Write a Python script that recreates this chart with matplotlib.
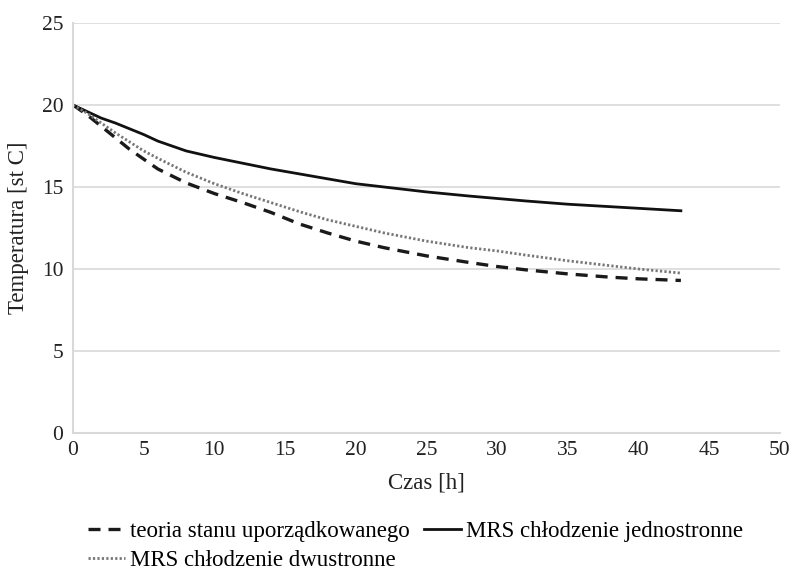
import matplotlib
matplotlib.use("Agg")
import matplotlib.pyplot as plt

hours = [0, 1, 2, 3, 4, 5, 6, 8, 10, 12, 14, 16, 18, 20, 22, 25, 28, 30, 32, 35, 38, 40, 43]
teoria = [20, 19.4, 18.7, 18.0, 17.3, 16.7, 16.1, 15.25, 14.6, 14.05, 13.45, 12.75, 12.2, 11.7, 11.3,
          10.8, 10.4, 10.15, 9.95, 9.7, 9.5, 9.4, 9.3]
jednostronne = [20, 19.6, 19.2, 18.9, 18.55, 18.2, 17.8, 17.2, 16.8, 16.45, 16.1, 15.8, 15.5, 15.2, 15.0,
                14.7, 14.45, 14.3, 14.15, 13.95, 13.8, 13.7, 13.55]
dwustronne = [20, 19.5, 18.9, 18.3, 17.75, 17.2, 16.75, 15.9, 15.2, 14.6, 14.05, 13.5, 13.0, 12.6, 12.2,
              11.7, 11.3, 11.1, 10.85, 10.5, 10.2, 10.0, 9.75]

labels = ["teoria stanu uporządkowanego", "MRS chłodzenie jednostronne", "MRS chłodzenie dwustronne"]

plt.rcParams['font.family'] = ['Liberation Serif', 'DejaVu Serif']

fig = plt.figure(figsize=(7.96, 5.75), dpi=100)
ax = fig.add_axes([0.0917, 0.247, 0.888, 0.713])

l1, = ax.plot(hours, teoria, color='#1a1a1a', lw=2.4, linestyle=(0, (3.6, 2.4)), label=labels[0])
l2, = ax.plot(hours, jednostronne, color='#111111', lw=2.0, label=labels[1])
l3, = ax.plot(hours, dwustronne, color='#777777', lw=2.0, linestyle=(0, (0.8, 0.8)), label=labels[2])

ax.set_xlim(0, 50)
ax.set_ylim(0, 25)
ax.set_xticks(range(0, 51, 5))
ax.set_yticks(range(0, 26, 5))
ax.tick_params(length=0, labelsize=15.5, colors='#222222')
ax.tick_params(axis='x', pad=5.5)
ax.tick_params(axis='y', pad=7)
ax.grid(axis='y', color='#d9d9d9', lw=1.2)
ax.set_axisbelow(True)
for s in ['top', 'right']:
    ax.spines[s].set_visible(False)
for s in ['left', 'bottom']:
    ax.spines[s].set_color('#d9d9d9')
    ax.spines[s].set_linewidth(1.5)

ax.set_xlabel("Czas [h]", fontsize=16.5, color='#222222')
ax.set_ylabel("Temperatura [st C]", fontsize=16.5, color='#222222')
ax.xaxis.set_label_coords(0.5, -0.0976)
ax.yaxis.set_label_coords(-0.062, 0.5)

fig.legend([l1, l3, l2], [labels[0], labels[2], labels[1]], ncol=2, loc='upper left',
           bbox_to_anchor=(0.1106, 0.094), frameon=False, fontsize=16.5, handlelength=1.6,
           handletextpad=0.25, columnspacing=0.6, labelspacing=0.35, borderaxespad=0, borderpad=0)

fig.savefig("out.png", dpi=100)
